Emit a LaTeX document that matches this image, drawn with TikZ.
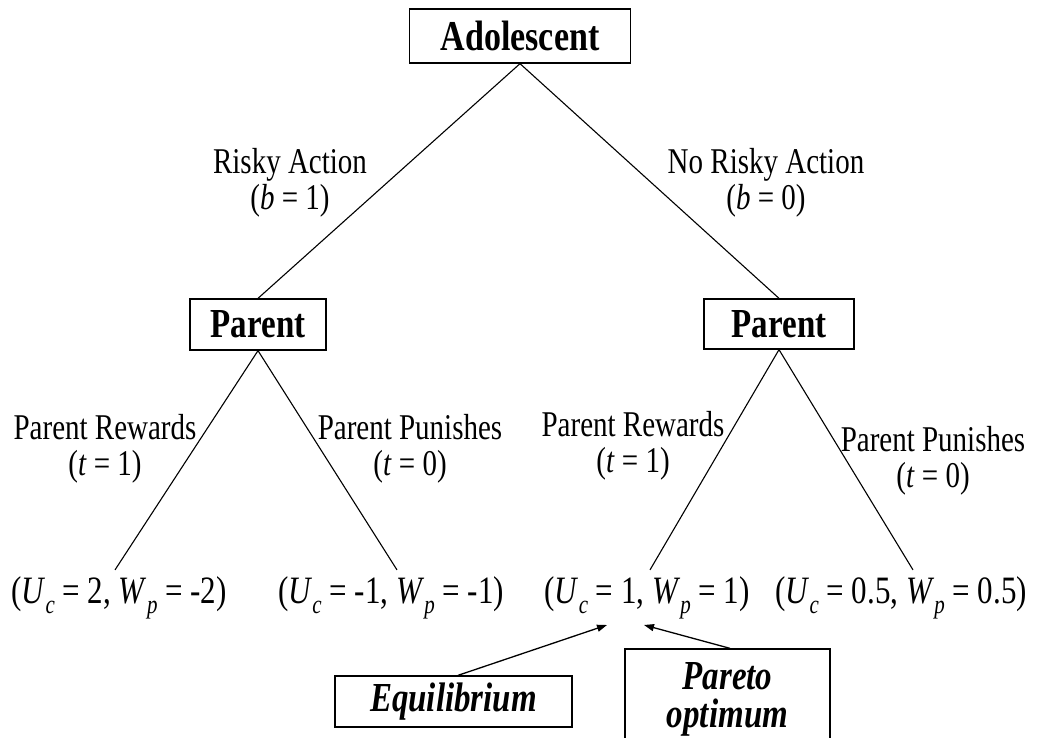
\documentclass[tikz,border=0pt]{standalone}
\usepackage{graphicx}
\usepackage{fontspec}
\setmainfont{Liberation Serif}
\usetikzlibrary{arrows.meta}
\newcommand{\mysub}[1]{\raisebox{-0.28em}{\fontsize{21}{21}\selectfont\textit{#1}}}
\newcommand{\vs}[1]{\scalebox{1}[1.25]{#1}}
\newcommand{\two}[2]{\vs{\begin{tabular}{@{}c@{}}#1\\#2\end{tabular}}}
\begin{document}
\begin{tikzpicture}[x=1pt,y=-1pt,
  box/.style={draw, line width=1.3pt, inner sep=0pt, font=\fontsize{33}{27}\selectfont\bfseries},
  lbl/.style={inner sep=0pt, font=\fontsize{29}{27}\selectfont},
  pay/.style={inner xsep=0pt, inner ysep=6pt, font=\fontsize{31}{31}\selectfont, anchor=base},
  edge/.style={line width=1.1pt},
  arr/.style={line width=1.3pt, -{Triangle[length=10pt,width=7pt]}}]
\useasboundingbox (0,0) rectangle (1047,738);
% decision nodes
\node[box, font=\fontsize{34}{27}\selectfont\bfseries, minimum width=221pt, minimum height=54pt] (ado) at (520,36) {\vs{Adolescent}};
\node[box, minimum width=136pt, minimum height=51pt] (pl) at (258,324.5) {\vs{Parent}};
\node[box, minimum width=150pt, minimum height=50pt] (pr) at (779,324) {\vs{Parent}};
% payoffs
\node[pay] (p1) at (119,603) {\vs{(\textit{U}\mysub{c} = 2, \textit{W}\mysub{p} = -2)}};
\node[pay] (p2) at (391,603) {\vs{(\textit{U}\mysub{c} = -1, \textit{W}\mysub{p} = -1)}};
\node[pay] (p3) at (647,603) {\vs{(\textit{U}\mysub{c} = 1, \textit{W}\mysub{p} = 1)}};
\node[pay] (p4) at (901,603) {\vs{(\textit{U}\mysub{c} = 0.5, \textit{W}\mysub{p} = 0.5)}};
% branch labels
\node[lbl] (risky) at (290,184) {\two{Risky Action}{(\textit{b} = 1)}};
\node[lbl] (norisky) at (766,184) {\two{No Risky Action}{(\textit{b} = 0)}};
\node[lbl] (lrew) at (105,450) {\two{Parent Rewards}{(\textit{t} = 1)}};
\node[lbl] (lpun) at (410,450) {\two{Parent Punishes}{(\textit{t} = 0)}};
\node[lbl] (rrew) at (633,447) {\two{Parent Rewards}{(\textit{t} = 1)}};
\node[lbl] (rpun) at (933,462) {\two{Parent Punishes}{(\textit{t} = 0)}};
% edges
\draw[edge] (ado.south) -- (pl.north);
\draw[edge] (ado.south) -- (pr.north);
\draw[edge] (pl.south) -- ([xshift=-4pt]p1.north);
\draw[edge] (pl.south) -- ([xshift=6pt]p2.north);
\draw[edge] (pr.south) -- ([xshift=3pt]p3.north);
\draw[edge] (pr.south) -- ([xshift=12pt]p4.north);
% annotation boxes
\node[box, font=\fontsize{33}{27}\selectfont\bfseries\itshape, minimum width=237pt, minimum height=51pt] (eq) at (453.5,701.5) {\vs{Equilibrium}};
\node[box, font=\fontsize{33}{27}\selectfont\bfseries\itshape, minimum width=205pt, minimum height=102pt] (par) at (727.5,700) {\two{Pareto}{optimum}};
\coordinate (eqtip) at (607,625);
\coordinate (partip) at (644,625);
\draw[arr] ([xshift=4.5pt]eq.north) -- (eqtip);
\draw[arr] ([xshift=2.5pt]par.north) -- (partip);
\end{tikzpicture}
\end{document}
